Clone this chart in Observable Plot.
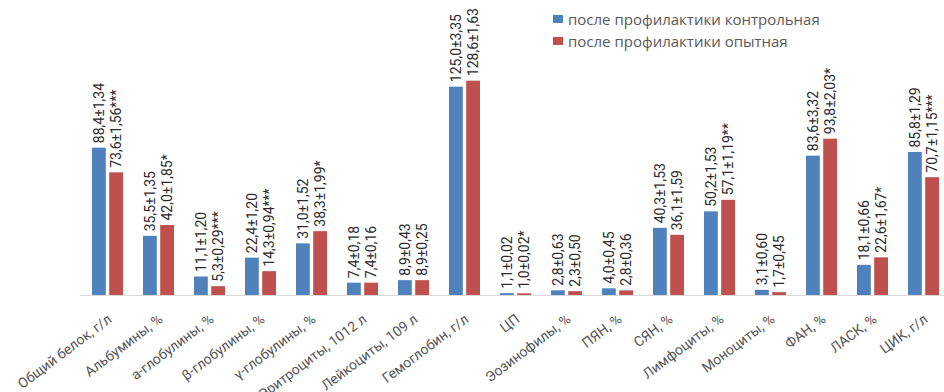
<!DOCTYPE html>
<html>
<head>
<meta charset="utf-8">
<script src="https://cdn.jsdelivr.net/npm/d3@7"></script>
<script src="https://cdn.jsdelivr.net/npm/@observablehq/plot@0.6"></script>
<style>
  body { margin: 0; background: #fff; }
  #chart { position: relative; width: 944px; height: 392px; }
  .legend { position: absolute; left: 553px; top: 8px; font-family: "Open Sans", sans-serif; font-size: 15px; color: #595959; }
  .legend div { display: flex; align-items: center; height: 22px; white-space: nowrap; }
  .legend span.sw { display: inline-block; width: 10px; height: 8px; margin-right: 5px; }
</style>
</head>
<body>
<div id="chart"></div>
<script>
// Blood indices after prophylaxis: control vs. experimental group (mean ± error)
const categories = [
  "Общий белок, г/л", "Альбумины, %", "а-глобулины, %", "β-глобулины, %", "γ-глобулины, %",
  "Эритроциты, 1012 л", "Лейкоциты, 109 л", "Гемоглобин, г/л", "ЦП", "Эозинофилы, %",
  "ПЯН, %", "СЯН, %", "Лимфоциты, %", "Моноциты, %", "ФАН, %", "ЛАСК, %", "ЦИК, г/л"
];
const controlValues = [88.4, 35.5, 11.1, 22.4, 31.0, 7.4, 8.9, 125.0, 1.1, 2.8, 4.0, 40.3, 50.2, 3.1, 83.6, 18.1, 85.8];
const controlErrors = [1.34, 1.35, 1.20, 1.20, 1.52, 0.18, 0.43, 3.35, 0.02, 0.63, 0.45, 1.53, 1.53, 0.60, 3.32, 0.66, 1.29];
const experimentalValues = [73.6, 42.0, 5.3, 14.3, 38.3, 7.4, 8.9, 128.6, 1.0, 2.3, 2.8, 36.1, 57.1, 1.7, 93.8, 22.6, 70.7];
const experimentalErrors = [1.56, 1.85, 0.29, 0.94, 1.99, 0.16, 0.25, 1.63, 0.02, 0.50, 0.36, 1.59, 1.19, 0.45, 2.03, 1.67, 1.15];
const experimentalSignificance = ["***", "*", "***", "***", "*", "", "", "", "*", "", "", "", "**", "", "*", "*", "***"];
const seriesNames = ["после профилактики контрольная", "после профилактики опытная"];
const seriesColors = ["#4f81bd", "#c0504d"];

const comma = (v, d) => v.toFixed(d).replace(".", ",");
const control = categories.map((c, i) => ({
  category: c, value: controlValues[i],
  label: comma(controlValues[i], 1) + "±" + comma(controlErrors[i], 2)
}));
const experimental = categories.map((c, i) => ({
  category: c, value: experimentalValues[i],
  label: comma(experimentalValues[i], 1) + "±" + comma(experimentalErrors[i], 2) + experimentalSignificance[i]
}));

const barGap = 17.2;   // each bar takes a bit under half of the group band
const half = 8.6;      // label offset to the centre of each bar
const labelFont = "'Liberation Sans Narrow', 'Roboto', sans-serif";

const chart = Plot.plot({
  width: 944,
  height: 392,
  marginLeft: 80,
  marginRight: 0,
  marginTop: 45,
  marginBottom: 97,
  style: { fontFamily: "Roboto, sans-serif", color: "#555", background: "#fff" },
  x: { domain: categories, range: [80, 950], paddingInner: 0.4, paddingOuter: 0.2, label: null },
  y: { domain: [0, 150], axis: null },
  marks: [
    Plot.ruleY([0], { stroke: "#d9d9d9", strokeWidth: 1 }),
    Plot.barY(control, { x: "category", y: "value", fill: seriesColors[0], insetRight: barGap }),
    Plot.barY(experimental, { x: "category", y: "value", fill: seriesColors[1], insetLeft: barGap }),
    Plot.text(control, {
      x: "category", y: "value", text: "label", rotate: -90, textAnchor: "start",
      dx: -half, dy: -5, fontSize: 14, fontFamily: labelFont, fill: "#2b2b2b"
    }),
    Plot.text(experimental, {
      x: "category", y: "value", text: "label", rotate: -90, textAnchor: "start",
      dx: half, dy: -5, fontSize: 14, fontFamily: labelFont, fill: "#2b2b2b"
    }),
    Plot.axisX({ tickRotate: -37, tickSize: 0, tickPadding: 22, dx: 2, fontSize: 14, label: null })
  ]
});

const root = document.getElementById("chart");
root.appendChild(chart);

const legend = document.createElement("div");
legend.className = "legend";
seriesNames.forEach((name, i) => {
  const row = document.createElement("div");
  const sw = document.createElement("span");
  sw.className = "sw";
  sw.style.background = seriesColors[i];
  row.appendChild(sw);
  row.appendChild(document.createTextNode(name));
  legend.appendChild(row);
});
root.appendChild(legend);
</script>
</body>
</html>
